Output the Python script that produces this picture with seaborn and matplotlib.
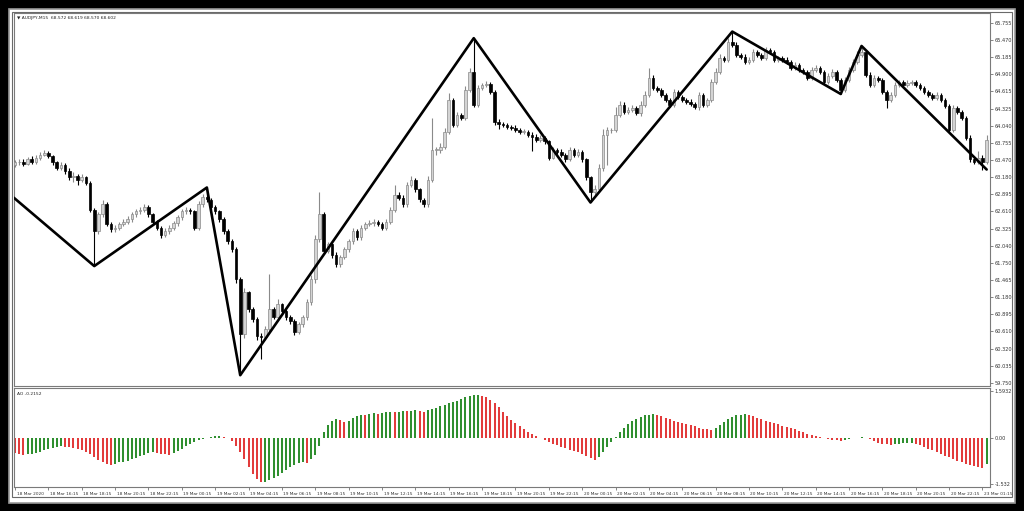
import numpy as np
import pandas as pd
import matplotlib
matplotlib.use("Agg")
import matplotlib.pyplot as plt
import matplotlib.transforms as mtransforms
from matplotlib.patches import Rectangle
import seaborn as sns

# ---------------- data ----------------
symbol_title = "\u25bc AUDJPY,M15  68.572 68.619 68.570 68.602"
ao_title = "AO -0.2152"

opens = [
    63.39, 63.43, 63.44, 63.41, 63.48, 63.44, 63.51, 63.56, 63.59, 63.53,
    63.43, 63.34, 63.39, 63.28, 63.18, 63.21, 63.14, 63.18, 63.09, 62.64,
    62.28, 62.56, 62.73, 62.40, 62.31, 62.34, 62.40, 62.44, 62.48, 62.56,
    62.61, 62.64, 62.68, 62.56, 62.44, 62.34, 62.21, 62.28, 62.34, 62.41,
    62.51, 62.61, 62.64, 62.61, 62.34, 62.73, 62.86, 62.81, 62.68, 62.61,
    62.48, 62.28, 62.11, 61.98, 61.48, 60.57, 61.26, 60.98, 60.81, 60.53,
    60.52, 60.65, 60.98, 60.85, 61.06, 60.95, 60.85, 60.78, 60.60, 60.73,
    60.85, 61.10, 61.48, 62.15, 62.56, 61.95, 62.06, 61.89, 61.73, 61.85,
    61.98, 62.11, 62.28, 62.18, 62.34, 62.40, 62.41, 62.44, 62.40, 62.34,
    62.44, 62.64, 62.89, 62.84, 62.73, 63.06, 63.14, 62.98, 62.81, 62.73,
    63.14, 63.64, 63.64, 63.69, 63.94, 64.47, 64.06, 64.22, 64.17, 64.64,
    64.94, 64.39, 64.67, 64.72, 64.74, 64.61, 64.11, 64.07, 64.06, 64.02,
    64.01, 63.97, 63.94, 63.94, 63.89, 63.86, 63.81, 63.84, 63.78, 63.51,
    63.64, 63.61, 63.56, 63.48, 63.64, 63.56, 63.61, 63.48, 63.18, 62.94,
    62.98, 63.34, 63.89, 63.97, 63.97, 64.22, 64.39, 64.27, 64.31, 64.34,
    64.26, 64.39, 64.56, 64.84, 64.67, 64.64, 64.56, 64.47, 64.39, 64.61,
    64.52, 64.47, 64.44, 64.41, 64.36, 64.56, 64.39, 64.47, 64.77, 64.94,
    65.17, 65.14, 65.44, 65.39, 65.22, 65.19, 65.11, 65.14, 65.27, 65.22,
    65.17, 65.31, 65.27, 65.14, 65.17, 65.14, 65.11, 65.01, 65.06, 64.97,
    64.94, 64.84, 64.97, 65.01, 64.94, 64.77, 64.87, 64.94, 64.81, 64.64,
    64.81, 64.97, 65.11, 65.22, 65.27, 64.89, 64.72, 64.84, 64.81, 64.61,
    64.47, 64.56, 64.72, 64.77, 64.72, 64.76, 64.77, 64.72, 64.67, 64.61,
    64.56, 64.51, 64.56, 64.47, 64.37, 63.97, 64.34, 64.27, 64.17, 63.84,
    63.48, 63.44, 63.51, 63.44,
]
closes = [
    63.43, 63.44, 63.41, 63.48, 63.44, 63.51, 63.56, 63.59, 63.53, 63.43,
    63.34, 63.39, 63.28, 63.18, 63.21, 63.14, 63.18, 63.09, 62.64, 62.28,
    62.56, 62.73, 62.40, 62.31, 62.34, 62.40, 62.44, 62.48, 62.56, 62.61,
    62.64, 62.68, 62.56, 62.44, 62.34, 62.21, 62.28, 62.34, 62.41, 62.51,
    62.61, 62.64, 62.61, 62.34, 62.73, 62.86, 62.81, 62.68, 62.61, 62.48,
    62.28, 62.11, 61.98, 61.48, 60.57, 61.26, 60.98, 60.81, 60.53, 60.52,
    60.65, 60.98, 60.85, 61.06, 60.95, 60.85, 60.78, 60.60, 60.73, 60.85,
    61.10, 61.48, 62.15, 62.56, 61.95, 62.06, 61.89, 61.73, 61.85, 61.98,
    62.11, 62.28, 62.18, 62.34, 62.40, 62.41, 62.44, 62.40, 62.34, 62.44,
    62.64, 62.89, 62.84, 62.73, 63.06, 63.14, 62.98, 62.81, 62.73, 63.14,
    63.64, 63.64, 63.69, 63.94, 64.47, 64.06, 64.22, 64.17, 64.64, 64.94,
    64.39, 64.67, 64.72, 64.74, 64.61, 64.11, 64.07, 64.06, 64.02, 64.01,
    63.97, 63.94, 63.94, 63.89, 63.86, 63.81, 63.84, 63.78, 63.51, 63.64,
    63.61, 63.56, 63.48, 63.64, 63.56, 63.61, 63.48, 63.18, 62.94, 62.98,
    63.34, 63.89, 63.97, 63.97, 64.22, 64.39, 64.27, 64.31, 64.34, 64.26,
    64.39, 64.56, 64.84, 64.67, 64.64, 64.56, 64.47, 64.39, 64.61, 64.52,
    64.47, 64.44, 64.41, 64.36, 64.56, 64.39, 64.47, 64.77, 64.94, 65.17,
    65.14, 65.44, 65.39, 65.22, 65.19, 65.11, 65.14, 65.27, 65.22, 65.17,
    65.31, 65.27, 65.14, 65.17, 65.14, 65.11, 65.01, 65.06, 64.97, 64.94,
    64.84, 64.97, 65.01, 64.94, 64.77, 64.87, 64.94, 64.81, 64.64, 64.81,
    64.97, 65.11, 65.22, 65.27, 64.89, 64.72, 64.84, 64.81, 64.61, 64.47,
    64.56, 64.72, 64.77, 64.72, 64.76, 64.77, 64.72, 64.67, 64.61, 64.56,
    64.51, 64.56, 64.47, 64.37, 63.97, 64.34, 64.27, 64.17, 63.84, 63.48,
    63.44, 63.51, 63.44, 63.81,
]
highs = [
    63.47, 63.49, 63.48, 63.52, 63.53, 63.55, 63.61, 63.63, 63.62, 63.56,
    63.46, 63.44, 63.42, 63.33, 63.27, 63.24, 63.23, 63.21, 63.12, 62.67,
    62.60, 62.80, 62.76, 62.44, 62.39, 62.44, 62.48, 62.53, 62.60, 62.65,
    62.69, 62.73, 62.71, 62.59, 62.47, 62.37, 62.33, 62.38, 62.45, 62.55,
    62.65, 62.69, 62.67, 62.64, 62.78, 62.91, 63.01, 62.84, 62.71, 62.64,
    62.51, 62.31, 62.15, 62.01, 61.52, 61.33, 61.29, 61.02, 60.85, 60.58,
    60.70, 61.56, 61.02, 61.15, 61.09, 60.98, 60.89, 60.81, 60.77, 60.89,
    61.15, 61.55, 62.22, 62.93, 62.60, 62.10, 62.09, 61.93, 61.89, 62.02,
    62.15, 62.33, 62.31, 62.38, 62.44, 62.46, 62.48, 62.47, 62.43, 62.48,
    62.69, 63.06, 62.94, 62.88, 63.10, 63.20, 63.17, 63.01, 62.84, 63.20,
    64.17, 63.69, 63.76, 64.00, 64.59, 64.50, 64.27, 64.26, 64.70, 65.00,
    65.50, 64.72, 64.76, 64.78, 64.77, 64.64, 64.15, 64.11, 64.09, 64.06,
    64.05, 64.01, 63.98, 63.97, 63.93, 63.90, 63.88, 63.87, 63.81, 63.69,
    63.67, 63.65, 63.59, 63.68, 63.67, 63.65, 63.64, 63.51, 63.21, 63.06,
    63.40, 63.98, 64.02, 64.01, 64.35, 64.46, 64.43, 64.36, 64.38, 64.37,
    64.45, 64.62, 65.01, 64.88, 64.71, 64.67, 64.59, 64.50, 64.66, 64.64,
    64.56, 64.50, 64.48, 64.44, 64.61, 64.59, 64.51, 64.82, 65.00, 65.23,
    65.21, 65.50, 65.61, 65.43, 65.26, 65.23, 65.18, 65.32, 65.30, 65.25,
    65.36, 65.34, 65.30, 65.21, 65.20, 65.18, 65.14, 65.10, 65.09, 65.01,
    64.97, 65.02, 65.05, 65.04, 64.97, 64.92, 64.98, 64.97, 64.84, 64.86,
    65.02, 65.16, 65.28, 65.37, 65.30, 64.93, 64.88, 64.87, 64.84, 64.64,
    64.61, 64.77, 64.81, 64.80, 64.80, 64.81, 64.80, 64.75, 64.70, 64.64,
    64.59, 64.60, 64.59, 64.50, 64.40, 64.39, 64.37, 64.30, 64.20, 63.88,
    63.52, 63.62, 63.55, 63.88,
]
lows = [
    63.35, 63.39, 63.37, 63.38, 63.40, 63.41, 63.47, 63.53, 63.50, 63.39,
    63.30, 63.30, 63.24, 63.14, 63.10, 63.05, 63.10, 63.05, 62.60, 61.70,
    62.24, 62.52, 62.36, 62.27, 62.26, 62.30, 62.36, 62.40, 62.44, 62.52,
    62.57, 62.60, 62.52, 62.40, 62.30, 62.16, 62.18, 62.24, 62.30, 62.37,
    62.47, 62.57, 62.56, 62.30, 62.30, 62.69, 62.77, 62.64, 62.57, 62.44,
    62.24, 62.06, 61.93, 61.42, 59.88, 60.50, 60.94, 60.76, 60.47, 60.15,
    60.47, 60.60, 60.81, 60.80, 60.91, 60.80, 60.74, 60.55, 60.56, 60.69,
    60.80, 61.05, 61.42, 62.10, 61.90, 61.91, 61.84, 61.68, 61.69, 61.81,
    61.94, 62.07, 62.14, 62.13, 62.30, 62.36, 62.37, 62.36, 62.30, 62.30,
    62.40, 62.60, 62.80, 62.69, 62.69, 63.02, 62.94, 62.77, 62.69, 62.69,
    63.10, 63.56, 63.58, 63.65, 63.90, 64.02, 64.02, 64.13, 64.13, 64.60,
    64.35, 64.35, 64.63, 64.68, 64.57, 64.05, 63.98, 64.02, 63.98, 63.97,
    63.93, 63.90, 63.90, 63.85, 63.62, 63.77, 63.77, 63.74, 63.47, 63.48,
    63.57, 63.52, 63.44, 63.45, 63.52, 63.52, 63.44, 63.14, 62.76, 62.88,
    62.94, 63.29, 63.39, 63.92, 63.93, 64.18, 64.23, 64.23, 64.27, 64.22,
    64.21, 64.35, 64.52, 64.63, 64.60, 64.52, 64.43, 64.35, 64.35, 64.48,
    64.43, 64.40, 64.37, 64.32, 64.31, 64.35, 64.35, 64.43, 64.73, 64.90,
    65.10, 65.10, 65.35, 65.18, 65.15, 65.07, 65.07, 65.10, 65.18, 65.13,
    65.13, 65.23, 65.10, 65.10, 65.10, 65.07, 64.97, 64.97, 64.93, 64.90,
    64.80, 64.80, 64.93, 64.90, 64.73, 64.73, 64.83, 64.77, 64.57, 64.60,
    64.77, 64.93, 65.07, 65.18, 64.85, 64.68, 64.68, 64.77, 64.57, 64.34,
    64.43, 64.52, 64.68, 64.68, 64.68, 64.72, 64.68, 64.63, 64.57, 64.52,
    64.47, 64.47, 64.43, 64.33, 63.93, 63.93, 64.23, 64.13, 63.80, 63.44,
    63.40, 63.40, 63.31, 63.40,
]

ao_values = [
    -0.50, -0.53, -0.55, -0.54, -0.52, -0.48, -0.44, -0.40, -0.36, -0.32,
    -0.28, -0.25, -0.28, -0.30, -0.33, -0.36, -0.40, -0.45, -0.52, -0.62,
    -0.72, -0.80, -0.86, -0.90, -0.85, -0.80, -0.78, -0.75, -0.70, -0.65,
    -0.60, -0.55, -0.50, -0.45, -0.48, -0.51, -0.53, -0.55, -0.50, -0.42,
    -0.34, -0.26, -0.18, -0.11, -0.06, -0.03, 0.02, 0.05, 0.08, 0.09,
    0.06, 0.02, -0.08, -0.25, -0.45, -0.70, -0.95, -1.18, -1.35, -1.47,
    -1.45, -1.40, -1.33, -1.25, -1.15, -1.05, -0.95, -0.88, -0.83, -0.80,
    -0.82, -0.70, -0.55, -0.25, 0.20, 0.45, 0.60, 0.66, 0.62, 0.55,
    0.60, 0.68, 0.75, 0.80, 0.78, 0.82, 0.85, 0.83, 0.86, 0.88,
    0.90, 0.88, 0.90, 0.92, 0.91, 0.93, 0.95, 0.92, 0.90, 0.94,
    0.98, 1.02, 1.08, 1.12, 1.18, 1.22, 1.27, 1.32, 1.38, 1.42,
    1.45, 1.46, 1.42, 1.38, 1.30, 1.20, 1.05, 0.90, 0.75, 0.62,
    0.50, 0.40, 0.30, 0.22, 0.15, 0.08, 0.02, -0.05, -0.12, -0.18,
    -0.22, -0.28, -0.32, -0.38, -0.42, -0.46, -0.52, -0.58, -0.66, -0.72,
    -0.62, -0.45, -0.30, -0.12, 0.05, 0.22, 0.36, 0.48, 0.58, 0.66,
    0.72, 0.77, 0.80, 0.82, 0.78, 0.74, 0.70, 0.65, 0.60, 0.56,
    0.52, 0.48, 0.44, 0.40, 0.36, 0.33, 0.30, 0.28, 0.35, 0.45,
    0.55, 0.65, 0.72, 0.77, 0.80, 0.81, 0.78, 0.74, 0.70, 0.65,
    0.60, 0.56, 0.52, 0.47, 0.42, 0.38, 0.34, 0.30, 0.25, 0.20,
    0.16, 0.12, 0.08, 0.05, 0.02, -0.02, -0.04, -0.06, -0.08, -0.05,
    -0.03, 0.00, 0.02, 0.04, 0.02, -0.03, -0.08, -0.14, -0.18, -0.20,
    -0.21, -0.20, -0.18, -0.17, -0.16, -0.15, -0.18, -0.22, -0.28, -0.34,
    -0.40, -0.46, -0.52, -0.58, -0.64, -0.70, -0.75, -0.80, -0.85, -0.90,
    -0.93, -0.96, -0.98, -0.85,
]

zigzag_bar = [-0.3, 19, 46, 54, 110, 138, 172, 198, 203, 233]
zigzag_price = [62.84, 61.70, 63.01, 59.88, 65.50, 62.76, 65.61, 64.57, 65.37, 63.31]

price_ticks = [65.755, 65.470, 65.185, 64.900, 64.615, 64.325, 64.040, 63.755,
               63.470, 63.180, 62.895, 62.610, 62.325, 62.040, 61.750, 61.465,
               61.180, 60.895, 60.610, 60.320, 60.035, 59.750]
ao_ticks = [1.5932, 0.0, -1.532]
ao_tick_labels = ["1.5932", "0.00", "-1.532"]

time_labels = ["18 Mar 2020", "18 Mar 16:15", "18 Mar 18:15", "18 Mar 20:15",
               "18 Mar 22:15", "19 Mar 00:15", "19 Mar 02:15", "19 Mar 04:15",
               "19 Mar 06:15", "19 Mar 08:15", "19 Mar 10:15", "19 Mar 12:15",
               "19 Mar 14:15", "19 Mar 16:15", "19 Mar 18:15", "19 Mar 20:15",
               "19 Mar 22:15", "20 Mar 00:15", "20 Mar 02:15", "20 Mar 04:15",
               "20 Mar 06:15", "20 Mar 08:15", "20 Mar 10:15", "20 Mar 12:15",
               "20 Mar 14:15", "20 Mar 16:15", "20 Mar 18:15", "20 Mar 20:15",
               "20 Mar 22:15", "23 Mar 01:15"]
bars_per_label = 8

# ---------------- figure ----------------
sns.set_theme(style="white")
plt.rcParams["font.family"] = ["DejaVu Sans"]

W, H = 1024, 511
fig = plt.figure(figsize=(W / 100, H / 100), dpi=100, facecolor="black")

def fx(px):
    return px / W

def fy(py):
    return 1 - py / H

# window frame (behind the axes)
fig.patches.append(Rectangle((fx(9), fy(503)), fx(1015) - fx(9), fy(9) - fy(503),
                             transform=fig.transFigure, facecolor="white",
                             edgecolor="#9a9a9a", lw=1.2, zorder=-2))
fig.patches.append(Rectangle((fx(12), fy(497)), fx(1012) - fx(12), fy(12) - fy(497),
                             transform=fig.transFigure, facecolor="white",
                             edgecolor="#6a6a6a", lw=0.8, zorder=-1))

left, right = 14, 990
ax = fig.add_axes([fx(left), fy(386), fx(right) - fx(left), fy(13) - fy(386)])
ax_ao = fig.add_axes([fx(left), fy(487), fx(right) - fx(left), fy(388) - fy(487)])

df = pd.DataFrame({"open": opens, "high": highs, "low": lows, "close": closes})
df["bar"] = np.arange(len(df))
df["up"] = df["close"] >= df["open"]

up = df[df["up"]]
dn = df[~df["up"]]
body_w = 0.62
ax.vlines(up["bar"], up["low"], up["high"], color="#8a8a8a", lw=0.8, zorder=2)
ax.vlines(dn["bar"], dn["low"], dn["high"], color="black", lw=0.8, zorder=2)
ax.bar(up["bar"], (up["close"] - up["open"]).clip(lower=0.004), bottom=up["open"],
       width=body_w, color="#d4d4d4", edgecolor="#8a8a8a", lw=0.5, zorder=3)
ax.bar(dn["bar"], dn["close"] - dn["open"], bottom=dn["open"],
       width=body_w, color="black", edgecolor="black", lw=0.5, zorder=3)

zz = pd.DataFrame({"bar": zigzag_bar, "price": zigzag_price})
sns.lineplot(data=zz, x="bar", y="price", sort=False, color="black", lw=1.9,
             ax=ax, zorder=4)

xlim = (-0.25, 233.8)
ax.set_xlim(*xlim)
ax.set_ylim(59.70, 65.92)
ax.yaxis.tick_right()
ax.set_yticks(price_ticks)
ax.set_yticklabels([f"{t:.3f}" for t in price_ticks])
ax.set_xticks([])
ax.set_xlabel("")
ax.set_ylabel("")
ax.tick_params(axis="y", which="both", direction="out", length=2, width=0.5,
               pad=1.5, labelsize=3.6, labelcolor="#333333", colors="#555555",
               right=True, left=False)
for s in ax.spines.values():
    s.set_color("#7a7a7a")
    s.set_linewidth(0.8)
ax.text(0.003, 0.993, symbol_title, transform=ax.transAxes, ha="left", va="top",
        fontsize=3.2, color="#222222")

ao = pd.DataFrame({"bar": np.arange(len(ao_values)), "ao": ao_values})
ao["rising"] = ao["ao"].diff().fillna(0) > 0
colors = np.where(ao["rising"], "#2f8f2f", "#e23b3b")
ax_ao.vlines(ao["bar"], 0, ao["ao"], colors=colors, lw=1.45)
ax_ao.set_xlim(*xlim)
ax_ao.set_ylim(-1.63, 1.69)
ax_ao.yaxis.tick_right()
ax_ao.set_yticks(ao_ticks)
ax_ao.set_yticklabels(ao_tick_labels)
tick_pos = [i * bars_per_label for i in range(len(time_labels))]
ax_ao.set_xticks(tick_pos)
ax_ao.set_xticklabels(time_labels, ha="left")
ax_ao.tick_params(axis="x", direction="out", length=2.5, width=0.5, pad=1,
                  labelsize=3.1, labelcolor="#333333", colors="#555555",
                  bottom=True)
ax_ao.tick_params(axis="y", direction="out", length=2, width=0.5, pad=1.5,
                  labelsize=3.6, labelcolor="#333333", colors="#555555",
                  right=True, left=False)
offset = mtransforms.ScaledTranslation(1.5 / 100, 0, fig.dpi_scale_trans)
for lbl in ax_ao.get_xticklabels():
    lbl.set_transform(lbl.get_transform() + offset)
for s in ax_ao.spines.values():
    s.set_color("#7a7a7a")
    s.set_linewidth(0.8)
ax_ao.set_xlabel("")
ax_ao.set_ylabel("")
ax_ao.text(0.003, 0.96, ao_title, transform=ax_ao.transAxes, ha="left", va="top",
           fontsize=3.2, color="#222222")

fig.savefig("out.png", dpi=100, facecolor="black")
